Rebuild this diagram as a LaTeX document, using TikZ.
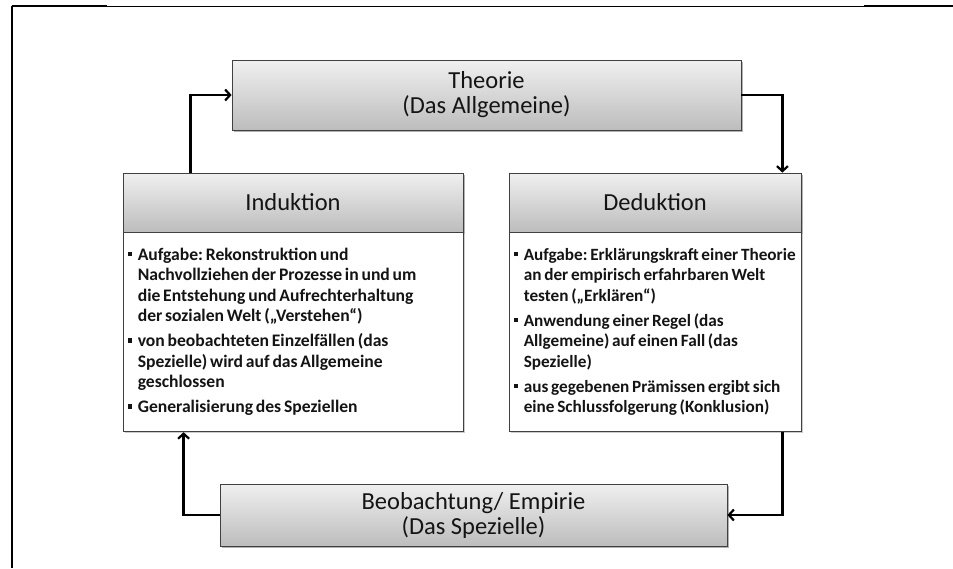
\documentclass[tikz,border=0pt]{standalone}
\usepackage{fontspec}
\setmainfont{Carlito}
\usetikzlibrary{arrows.meta,calc,shadows}

\tikzset{
  headbox/.style={draw=black!75, line width=0.8pt, rectangle, inner sep=0pt,
    top color=black!6, bottom color=black!26,
    drop shadow={shadow xshift=1.5pt, shadow yshift=-1.5pt, opacity=0.3, fill=black},
    font=\fontsize{24.5}{25}\selectfont, text=black!92, align=center},
  bodybox/.style={draw=black!75, line width=0.8pt, rectangle, fill=white, inner sep=0pt,
    drop shadow={shadow xshift=1.5pt, shadow yshift=-1.5pt, opacity=0.2, fill=black}},
  bodytext/.style={anchor=north west, inner sep=0pt, align=left, text=black!92},
  flow/.style={line width=2.4pt, -{Straight Barb[length=5pt,width=11pt,line width=2.2pt]}},
  frameline/.style={line width=2.5pt, black}
}

% bullet paragraph with hanging indent
\newcommand{\bitem}[1]{\par\noindent\hangindent=10pt\hangafter=1\makebox[10pt][l]{\raisebox{0.22em}{\rule{4.6pt}{4.6pt}}}#1\par\vspace{4.5pt}}
% tight word spacing for the bullet lists
\newcommand{\listsetup}{\frenchspacing\spaceskip=0.16em plus 0.05em minus 0.05em}

\begin{document}
\begin{tikzpicture}[x=1pt,y=-1pt]
\useasboundingbox (0,0) rectangle (953,568);
\fill[white] (0,0) rectangle (953,568);

% page frame fragments
\draw[black, line width=0.8pt] (107,6) -- (864,6);
\draw[frameline] (12,6) -- (107,6);
\draw[frameline] (864,6) -- (953,6);
\draw[frameline] (12,6) -- (12,568);

% Theorie
\node[headbox, minimum width=509pt, minimum height=70pt] (theo) at (486.5,95)
  {Theorie\\(Das Allgemeine)};

% Induktion
\node[headbox, minimum width=340pt, minimum height=59pt] (ih) at (293,202.5) {Induktion};
\node[bodybox, minimum width=340pt, minimum height=199pt, anchor=north] (ib) at (ih.south) {};
\node[bodytext, text width=340pt, font=\bfseries\fontsize{17.6}{20.5}\selectfont] (it)
  at ($(ib.north west)+(5,7)$) {%
  \listsetup
  \bitem{Aufgabe: Rekonstruktion und\newline Nachvollziehen der Prozesse in und um\newline die Entstehung und Aufrechterhaltung\newline der sozialen Welt („Verstehen“)}%
  \bitem{von beobachteten Einzelfällen (das\newline Spezielle) wird auf das Allgemeine\newline geschlossen}%
  \bitem{Generalisierung des Speziellen}};

% Deduktion
\node[headbox, minimum width=292pt, minimum height=59pt] (dh) at (655,202.5) {Deduktion};
\node[bodybox, minimum width=292pt, minimum height=199pt, anchor=north] (db) at (dh.south) {};
\node[bodytext, text width=300pt, font=\bfseries\fontsize{17.2}{20.5}\selectfont] (dt)
  at ($(db.north west)+(5,7)$) {%
  \listsetup
  \bitem{Aufgabe: Erklärungskraft einer Theorie\newline an der empirisch erfahrbaren Welt\newline testen („Erklären“)}%
  \bitem{Anwendung einer Regel (das\newline Allgemeine) auf einen Fall (das\newline Spezielle)}%
  \bitem{aus gegebenen Prämissen ergibt sich\newline eine Schlussfolgerung (Konklusion)}};

% Beobachtung
\node[headbox, minimum width=507pt, minimum height=62pt] (beob) at (473.5,515)
  {Beobachtung/ Empirie\\(Das Spezielle)};

% cycle connectors
\draw[flow] ($(ih.north west)+(68,0)$) |- (theo.west);
\draw[flow] (theo.east) -| ($(dh.north east)+(-19,0)$);
\draw[flow] ($(db.south east)+(-19,0)$) |- (beob.east);
\draw[flow] (beob.west) -| ($(ib.south west)+(61,0)$);
\end{tikzpicture}
\end{document}
